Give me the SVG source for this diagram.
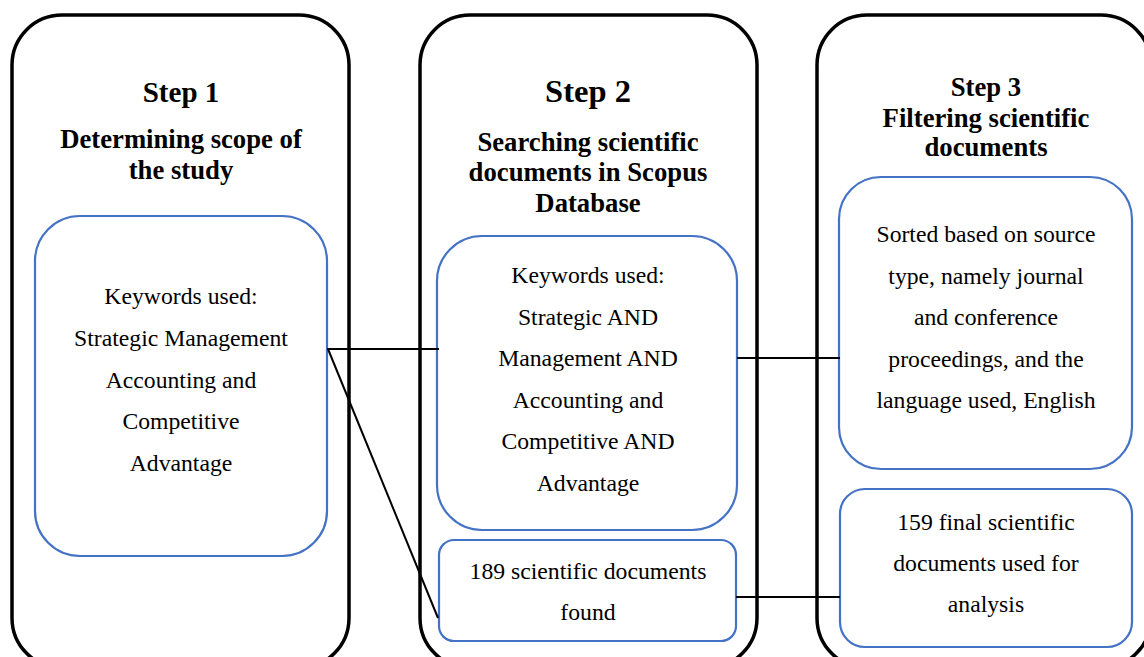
<svg xmlns="http://www.w3.org/2000/svg" width="1144" height="657" viewBox="0 0 1144 657">
<style>
.outer{fill:#fff;stroke:#000;stroke-width:3.5}
.inner{fill:#fff;stroke:#4472C4;stroke-width:2.2}
.conn{stroke:#000;stroke-width:2;fill:none}
.t{font-family:"Liberation Serif","Times New Roman",serif;font-size:23.7px;fill:#000;text-anchor:middle}
.h{font-family:"Liberation Serif","Times New Roman",serif;font-size:26.7px;font-weight:bold;fill:#000;text-anchor:middle}
</style>
<rect width="1144" height="657" fill="#fff"/>
<g id="step1">
<rect class="outer" x="12" y="15" width="337" height="653" rx="50" ry="50"/>
<text class="h" x="181" y="102" style="font-size:29px">Step 1</text>
<text class="h" x="181" y="148">Determining scope of</text>
<text class="h" x="181" y="179">the study</text>
</g>
<g id="step2">
<rect class="outer" x="420" y="15" width="337" height="653" rx="50" ry="50"/>
<text class="h" x="588" y="102" style="font-size:32.5px">Step 2</text>
<text class="h" x="588" y="151">Searching scientific</text>
<text class="h" x="588" y="181">documents in Scopus</text>
<text class="h" x="588" y="212">Database</text>
</g>
<g id="step3">
<rect class="outer" x="817" y="15" width="334" height="653" rx="50" ry="50"/>
<text class="h" x="986" y="96">Step 3</text>
<text class="h" x="986" y="127">Filtering scientific</text>
<text class="h" x="986" y="156">documents</text>
</g>
<g id="keywords1">
<rect class="inner" x="35" y="216" width="292" height="340" rx="45" ry="45"/>
<text class="t" x="181" y="304">Keywords used:</text>
<text class="t" x="181" y="346">Strategic Management</text>
<text class="t" x="181" y="388">Accounting and</text>
<text class="t" x="181" y="429">Competitive</text>
<text class="t" x="181" y="471">Advantage</text>
</g>
<g id="keywords2">
<rect class="inner" x="437" y="236" width="300" height="294" rx="45" ry="45"/>
<text class="t" x="588" y="283">Keywords used:</text>
<text class="t" x="588" y="325">Strategic AND</text>
<text class="t" x="588" y="366">Management AND</text>
<text class="t" x="588" y="408">Accounting and</text>
<text class="t" x="588" y="449">Competitive AND</text>
<text class="t" x="588" y="491">Advantage</text>
</g>
<g id="found">
<rect class="inner" x="439" y="540" width="297" height="101" rx="15" ry="15"/>
<text class="t" x="588" y="579">189 scientific documents</text>
<text class="t" x="588" y="620">found</text>
</g>
<g id="filter">
<rect class="inner" x="839" y="177" width="293" height="292" rx="42" ry="42"/>
<text class="t" x="986" y="242">Sorted based on source</text>
<text class="t" x="986" y="284">type, namely journal</text>
<text class="t" x="986" y="325">and conference</text>
<text class="t" x="986" y="367">proceedings, and the</text>
<text class="t" x="986" y="408">language used, English</text>
</g>
<g id="final">
<rect class="inner" x="840" y="489" width="292" height="158" rx="25" ry="25"/>
<text class="t" x="986" y="530">159 final scientific</text>
<text class="t" x="986" y="571">documents used for</text>
<text class="t" x="986" y="612">analysis</text>
</g>
<g id="connectors">
<line class="conn" x1="327" y1="349" x2="439" y2="349"/>
<line class="conn" x1="328" y1="349" x2="438" y2="618"/>
<line class="conn" x1="737" y1="358" x2="840" y2="358"/>
<line class="conn" x1="736" y1="597" x2="840" y2="597"/>
</g>
</svg>
